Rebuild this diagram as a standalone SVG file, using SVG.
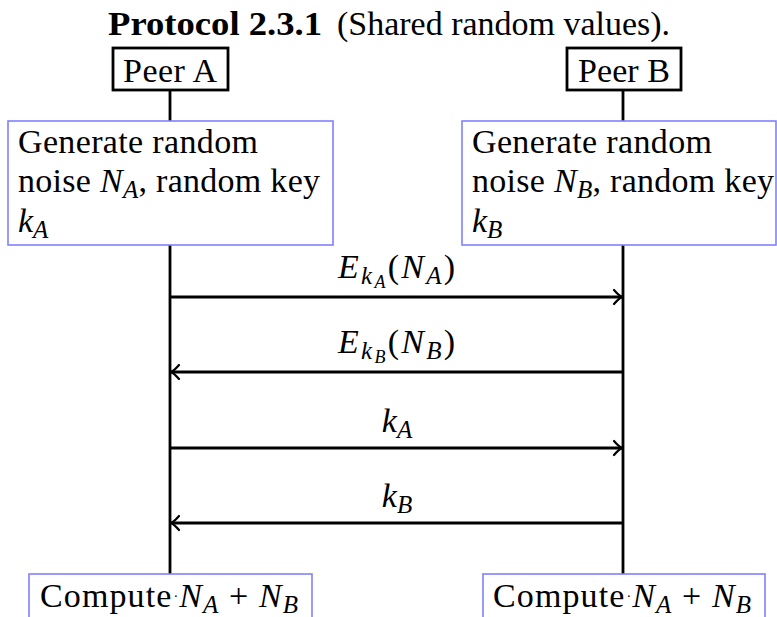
<svg xmlns="http://www.w3.org/2000/svg" width="777" height="617" viewBox="0 0 777 617">
<defs>
<style>
text{font-family:"Liberation Serif","Times New Roman",serif;font-size:34px;fill:#000}
.b{font-weight:bold}
.i{font-style:italic}
.peer{fill:#fff;stroke:#000;stroke-width:2.8}
.act{fill:#fff;stroke:#8080ff;stroke-width:1.6}
.life{stroke:#000;stroke-width:2.8;fill:none}
.msg{stroke:#000;stroke-width:2.8;fill:none;marker-end:url(#to)}
</style>
<marker id="to" markerUnits="userSpaceOnUse" viewBox="-11 -9 13 18" refX="0" refY="0" markerWidth="13" markerHeight="18" orient="auto">
<path d="M-8,-7 C-5,-3.5 -2,-1 0,0 C-2,1 -5,3.5 -8,7" fill="none" stroke="#000" stroke-width="2.2" stroke-linecap="round"/>
</marker>
</defs>
<rect width="777" height="617" fill="#fff"/>
<g id="title">
<text x="108" y="35" class="b" font-size="36" textLength="214" lengthAdjust="spacingAndGlyphs">Protocol 2.3.1</text>
<text x="337" y="35" textLength="333" lengthAdjust="spacingAndGlyphs">(Shared random values).</text>
</g>
<g id="lifelines">
<line class="life" x1="170" y1="90" x2="170" y2="574"/>
<line class="life" x1="623" y1="90" x2="623" y2="574"/>
</g>
<g id="peerA">
<rect class="peer" x="113" y="48" width="115" height="42"/>
<text x="123" y="82" textLength="94">Peer A</text>
</g>
<g id="peerB">
<rect class="peer" x="567" y="48" width="114" height="42"/>
<text x="578" y="82" textLength="92">Peer B</text>
</g>
<g id="genA">
<rect class="act" x="8" y="121" width="325" height="124"/>
<text x="18" y="153" textLength="240">Generate random</text>
<text x="18" y="192" textLength="302">noise <tspan class="i">N</tspan><tspan class="i" font-size="25" dy="6">A</tspan><tspan dy="-6">, random key</tspan></text>
<text x="18" y="232"><tspan class="i">k</tspan><tspan class="i" font-size="25" dy="6">A</tspan></text>
</g>
<g id="genB">
<rect class="act" x="462" y="121" width="314" height="124"/>
<text x="472" y="153" textLength="240">Generate random</text>
<text x="472" y="192" textLength="302">noise <tspan class="i">N</tspan><tspan class="i" font-size="25" dy="6">B</tspan><tspan dy="-6">, random key</tspan></text>
<text x="472" y="232"><tspan class="i">k</tspan><tspan class="i" font-size="25" dy="6">B</tspan></text>
</g>
<g id="connectors">
<line class="msg" x1="170" y1="297" x2="622" y2="297"/>
<line class="msg" x1="623" y1="372" x2="171" y2="372"/>
<line class="msg" x1="170" y1="448" x2="622" y2="448"/>
<line class="msg" x1="623" y1="523" x2="171" y2="523"/>
<text x="338" y="278" textLength="117"><tspan class="i">E</tspan><tspan class="i" font-size="25" dy="6">k</tspan><tspan class="i" font-size="18" dy="4">A</tspan><tspan dy="-10">(</tspan><tspan class="i">N</tspan><tspan class="i" font-size="25" dy="6">A</tspan><tspan dy="-6">)</tspan></text>
<text x="338" y="353" textLength="117"><tspan class="i">E</tspan><tspan class="i" font-size="25" dy="6">k</tspan><tspan class="i" font-size="18" dy="4">B</tspan><tspan dy="-10">(</tspan><tspan class="i">N</tspan><tspan class="i" font-size="25" dy="6">B</tspan><tspan dy="-6">)</tspan></text>
<text x="397" y="432" text-anchor="middle"><tspan class="i">k</tspan><tspan class="i" font-size="25" dy="6">A</tspan></text>
<text x="397" y="507" text-anchor="middle"><tspan class="i">k</tspan><tspan class="i" font-size="25" dy="6">B</tspan></text>
</g>
<g id="computeA">
<rect class="act" x="29" y="574" width="283" height="60"/>
<text x="40" y="607" textLength="258">Compute<tspan font-size="14" dx="1" dy="-6">·</tspan><tspan class="i" dy="6">N</tspan><tspan class="i" font-size="25" dy="6">A</tspan><tspan dy="-6"> + </tspan><tspan class="i">N</tspan><tspan class="i" font-size="25" dy="6">B</tspan></text>
</g>
<g id="computeB">
<rect class="act" x="483" y="574" width="282" height="60"/>
<text x="493" y="607" textLength="258">Compute<tspan font-size="14" dx="1" dy="-6">·</tspan><tspan class="i" dy="6">N</tspan><tspan class="i" font-size="25" dy="6">A</tspan><tspan dy="-6"> + </tspan><tspan class="i">N</tspan><tspan class="i" font-size="25" dy="6">B</tspan></text>
</g>
</svg>
